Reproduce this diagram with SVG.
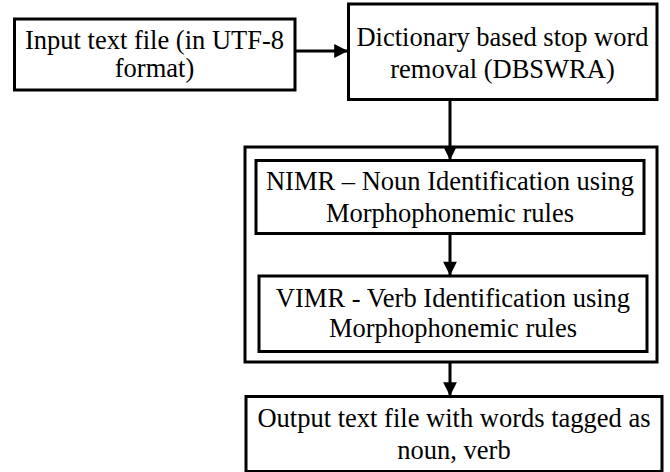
<svg xmlns="http://www.w3.org/2000/svg" width="670" height="472" viewBox="0 0 670 472">
<style>
.box{fill:#fff;stroke:#000;stroke-width:3}
.outer{fill:none;stroke:#000;stroke-width:3}
.t{font-family:'Liberation Serif','Times New Roman',serif;font-size:26.5px;fill:#000;text-anchor:middle}
.conn{stroke:#000;stroke-width:3;fill:none}
</style>
<defs>
<marker id="ah" viewBox="0 0 10 10" refX="10" refY="5" markerWidth="5" markerHeight="4.6" markerUnits="strokeWidth" orient="auto">
<path d="M0,0 L10,5 L0,10 Z" fill="#000"/>
</marker>
</defs>
<rect id="container" class="outer" x="245" y="147" width="412" height="215"/>
<g id="input">
<rect class="box" x="14.5" y="19" width="280.5" height="71"/>
<text class="t" x="154.5" y="49">Input text file (in UTF-8</text>
<text class="t" x="154.5" y="77">format)</text>
</g>
<g id="dbswra">
<rect class="box" x="348.5" y="4" width="308.5" height="95.5"/>
<text class="t" x="502.5" y="45.5">Dictionary based stop word</text>
<text class="t" x="502.5" y="77.5">removal (DBSWRA)</text>
</g>
<g id="nimr">
<rect class="box" x="256" y="160.5" width="388" height="73"/>
<text class="t" x="450" y="190">NIMR – Noun Identification using</text>
<text class="t" x="450" y="221.5">Morphophonemic rules</text>
</g>
<g id="vimr">
<rect class="box" x="259" y="276" width="388" height="75.5"/>
<text class="t" x="453" y="306.5">VIMR - Verb Identification using</text>
<text class="t" x="453" y="337">Morphophonemic rules</text>
</g>
<g id="output">
<rect class="box" x="246" y="396.5" width="416" height="75"/>
<text class="t" x="454" y="427">Output text file with words tagged as</text>
<text class="t" x="454" y="459">noun, verb</text>
</g>
<g id="connectors">
<line class="conn" x1="295" y1="51" x2="348" y2="51" marker-end="url(#ah)"/>
<line class="conn" x1="450" y1="99.5" x2="450" y2="160" marker-end="url(#ah)"/>
<line class="conn" x1="450" y1="233.5" x2="450" y2="275.5" marker-end="url(#ah)"/>
<line class="conn" x1="450" y1="362" x2="450" y2="396" marker-end="url(#ah)"/>
</g>
</svg>
